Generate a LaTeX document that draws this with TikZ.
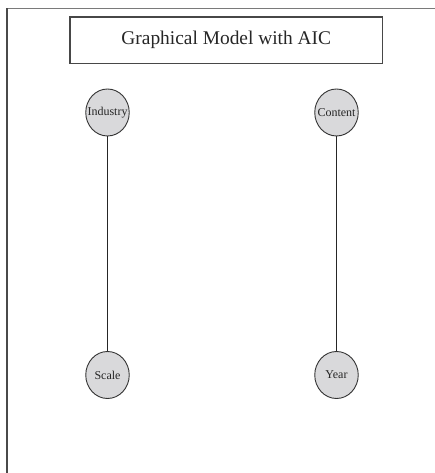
\documentclass[tikz,border=0pt]{standalone}
\usepackage{fontspec}
\setmainfont{Liberation Serif}
\usetikzlibrary{shapes.geometric}
\definecolor{nodefill}{HTML}{D9D9DB}
\definecolor{edgecol}{HTML}{333333}
\definecolor{framecol}{HTML}{7A7A7A}
\definecolor{leftcol}{HTML}{4A4A4A}
\newcommand{\ctext}[1]{\makebox[0pt]{#1}}
\tikzset{
  var/.style={ellipse, draw=edgecol, fill=nodefill, line width=0.9pt,
    minimum width=43.5pt, minimum height=47pt, inner sep=0pt,
    font=\fontsize{12}{14}\selectfont, text=black!85},
  titlebox/.style={draw=edgecol!90, line width=1.1pt, minimum width=312.5pt,
    minimum height=46.5pt, inner sep=0pt, font=\fontsize{19.4}{23}\selectfont, text=black!85},
  link/.style={draw=black!85, line width=0.9pt}
}
\begin{document}
\begin{tikzpicture}[x=1pt,y=1pt]
\useasboundingbox (0,0) rectangle (435,473);
\coordinate (tl) at (7,464.5);
\coordinate (tr) at (435,464.5);
\coordinate (bl) at (7,0);
\draw[framecol, line width=1.6pt] (tl) -- (tr);
\draw[leftcol, line width=1.4pt] (tl) -- (bl);
\node[titlebox] (title) at (226.25,432.75) {Graphical Model with AIC};
\node[var] (industry) at (107.5,360.5) {\ctext{Industry}};
\node[var] (content) at (336.5,360.5) {\ctext{Content}};
\node[var] (scale) at (107.5,98) {\ctext{Scale}};
\node[var] (year) at (336.5,98) {\ctext{Year}};
\draw[link] (industry) -- (scale);
\draw[link] (content) -- (year);
\end{tikzpicture}
\end{document}
